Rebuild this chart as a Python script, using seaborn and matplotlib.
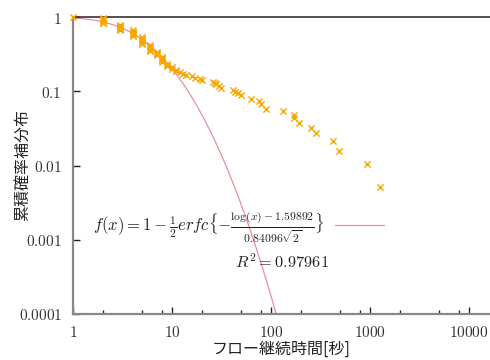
import numpy as np
import pandas as pd
import matplotlib
matplotlib.use("Agg")
import matplotlib.pyplot as plt
import matplotlib.ticker as mticker
from math import erfc, sqrt, log
import seaborn as sns

# ---- data ----
dur_x = [1,
         2, 2, 2, 2, 2, 2,
         3, 3, 3, 3, 3, 3,
         4, 4, 4, 4, 4, 4,
         5, 5, 5, 5, 5, 5,
         6, 6, 6, 6, 6,
         7, 7, 7, 7,
         8, 8, 8, 8, 8,
         9, 9, 9,
         10, 10, 11, 11, 12, 13, 14, 16, 17, 19, 20,
         26, 27, 28, 30, 31, 41, 43, 46, 50, 63, 75, 80, 89,
         131, 172, 172, 194, 254, 285, 420, 487, 935, 1250]
ccdf_y = [1.0,
          0.96, 0.93, 0.90, 0.87, 0.84, 0.82,
          0.79, 0.76, 0.73, 0.71, 0.69, 0.67,
          0.66, 0.63, 0.61, 0.59, 0.57, 0.55,
          0.53, 0.51, 0.49, 0.47, 0.45, 0.43,
          0.42, 0.40, 0.38, 0.36, 0.35,
          0.34, 0.33, 0.32, 0.31,
          0.29, 0.28, 0.27, 0.26, 0.25,
          0.235, 0.225, 0.22,
          0.21, 0.20, 0.195, 0.19, 0.18, 0.172, 0.166, 0.158, 0.152, 0.147, 0.142,
          0.133, 0.128, 0.124, 0.118, 0.112, 0.104, 0.098, 0.095, 0.088, 0.079, 0.073, 0.067, 0.058,
          0.054, 0.048, 0.044, 0.037, 0.032, 0.027, 0.0217, 0.0159, 0.0106, 0.0052]

fit_mu = 1.59892
fit_sigma = 0.84096
r_squared = "0.97961"

y_ticks = [1, 0.1, 0.01, 0.001, 0.0001]
y_tick_labels = ["1", "0.1", "0.01", "0.001", "0.0001"]
x_ticks = [1, 10, 100, 1000, 10000]
x_tick_labels = ["1", "10", "100", "1000", "10000"]

x_label = "フロー継続時間[秒]"
y_label = "累積確率補分布"
fit_label = r"$f(x) = 1 - \frac{1}{2}erfc\{-\frac{\log(x)-1.59892}{0.84096\sqrt{2}}\}$"

# fitted log-normal complementary CDF
fit_x = np.geomspace(1, 130, 400)
fit_y = [1 - 0.5 * erfc(-(log(v) - fit_mu) / (fit_sigma * sqrt(2))) for v in fit_x]

pts = pd.DataFrame({"x": dur_x, "y": ccdf_y})
fit = pd.DataFrame({"x": fit_x, "y": fit_y})

# ---- style ----
sns.set_theme(style="white")
plt.rcParams["mathtext.fontset"] = "cm"
plt.rcParams["font.family"] = ["Noto Sans CJK JP", "DejaVu Sans"]

fig = plt.figure(figsize=(4.9, 3.6), dpi=100)
ax = fig.add_axes([73 / 490, 1 - 314 / 360, 1 - 73 / 490, (314 - 17) / 360])

sns.lineplot(data=fit, x="x", y="y", ax=ax, color="#ea8f98", linewidth=0.9,
             label=fit_label, zorder=2)
sns.scatterplot(data=pts, x="x", y="y", ax=ax, marker="x", color="#f7a600",
                s=20, linewidth=1.0, zorder=3, legend=False, clip_on=False)

ax.set_xscale("log")
ax.set_yscale("log")
ax.set_xlim(1, 10 ** ((490 - 73) / 99))
ax.set_ylim(0.0001, 1)

ax.xaxis.set_major_locator(mticker.FixedLocator(x_ticks))
ax.xaxis.set_major_formatter(mticker.FixedFormatter([f"${t}$" for t in x_tick_labels]))
ax.xaxis.set_minor_locator(mticker.LogLocator(base=10, subs=[2, 5, 8], numticks=20))
ax.xaxis.set_minor_formatter(mticker.NullFormatter())
ax.yaxis.set_major_locator(mticker.FixedLocator(y_ticks))
ax.yaxis.set_major_formatter(mticker.FixedFormatter([f"${t}$" for t in y_tick_labels]))
ax.yaxis.set_minor_locator(mticker.NullLocator())

ax.tick_params(axis="both", which="major", direction="in", length=5, width=1,
               color="#222222", labelsize=11, labelcolor="#333333")
ax.tick_params(axis="x", which="minor", direction="in", length=3, width=1, color="#222222")
ax.tick_params(axis="x", which="both", bottom=True, top=False, pad=7)
ax.tick_params(axis="y", which="both", left=True, right=False, pad=8)

for side in ["left", "bottom"]:
    ax.spines[side].set_color("#888888")
    ax.spines[side].set_linewidth(1.6)
ax.spines["top"].set_color("#333333")
ax.spines["top"].set_linewidth(1.2)
ax.spines["right"].set_visible(False)

ax.set_xlabel(x_label, fontsize=11.5, labelpad=0, color="#222222")
ax.set_ylabel(y_label, fontsize=11.5, color="#222222")
ax.yaxis.set_label_coords((31 - 73) / 417, (314 - 165) / 297)

leg = ax.legend(loc="center left", bbox_to_anchor=(86 / 490, 1 - 227 / 360),
                bbox_transform=fig.transFigure, frameon=False, markerfirst=False,
                handlelength=2.9, handletextpad=0.65, fontsize=12, borderaxespad=0)
for t in leg.get_texts():
    t.set_color("#222222")

fig.text(235 / 490, 1 - 262 / 360, r"$R^2 = " + r_squared + "$", fontsize=11.8,
         ha="left", va="center", color="#222222")

fig.savefig("out.png", dpi=100)
